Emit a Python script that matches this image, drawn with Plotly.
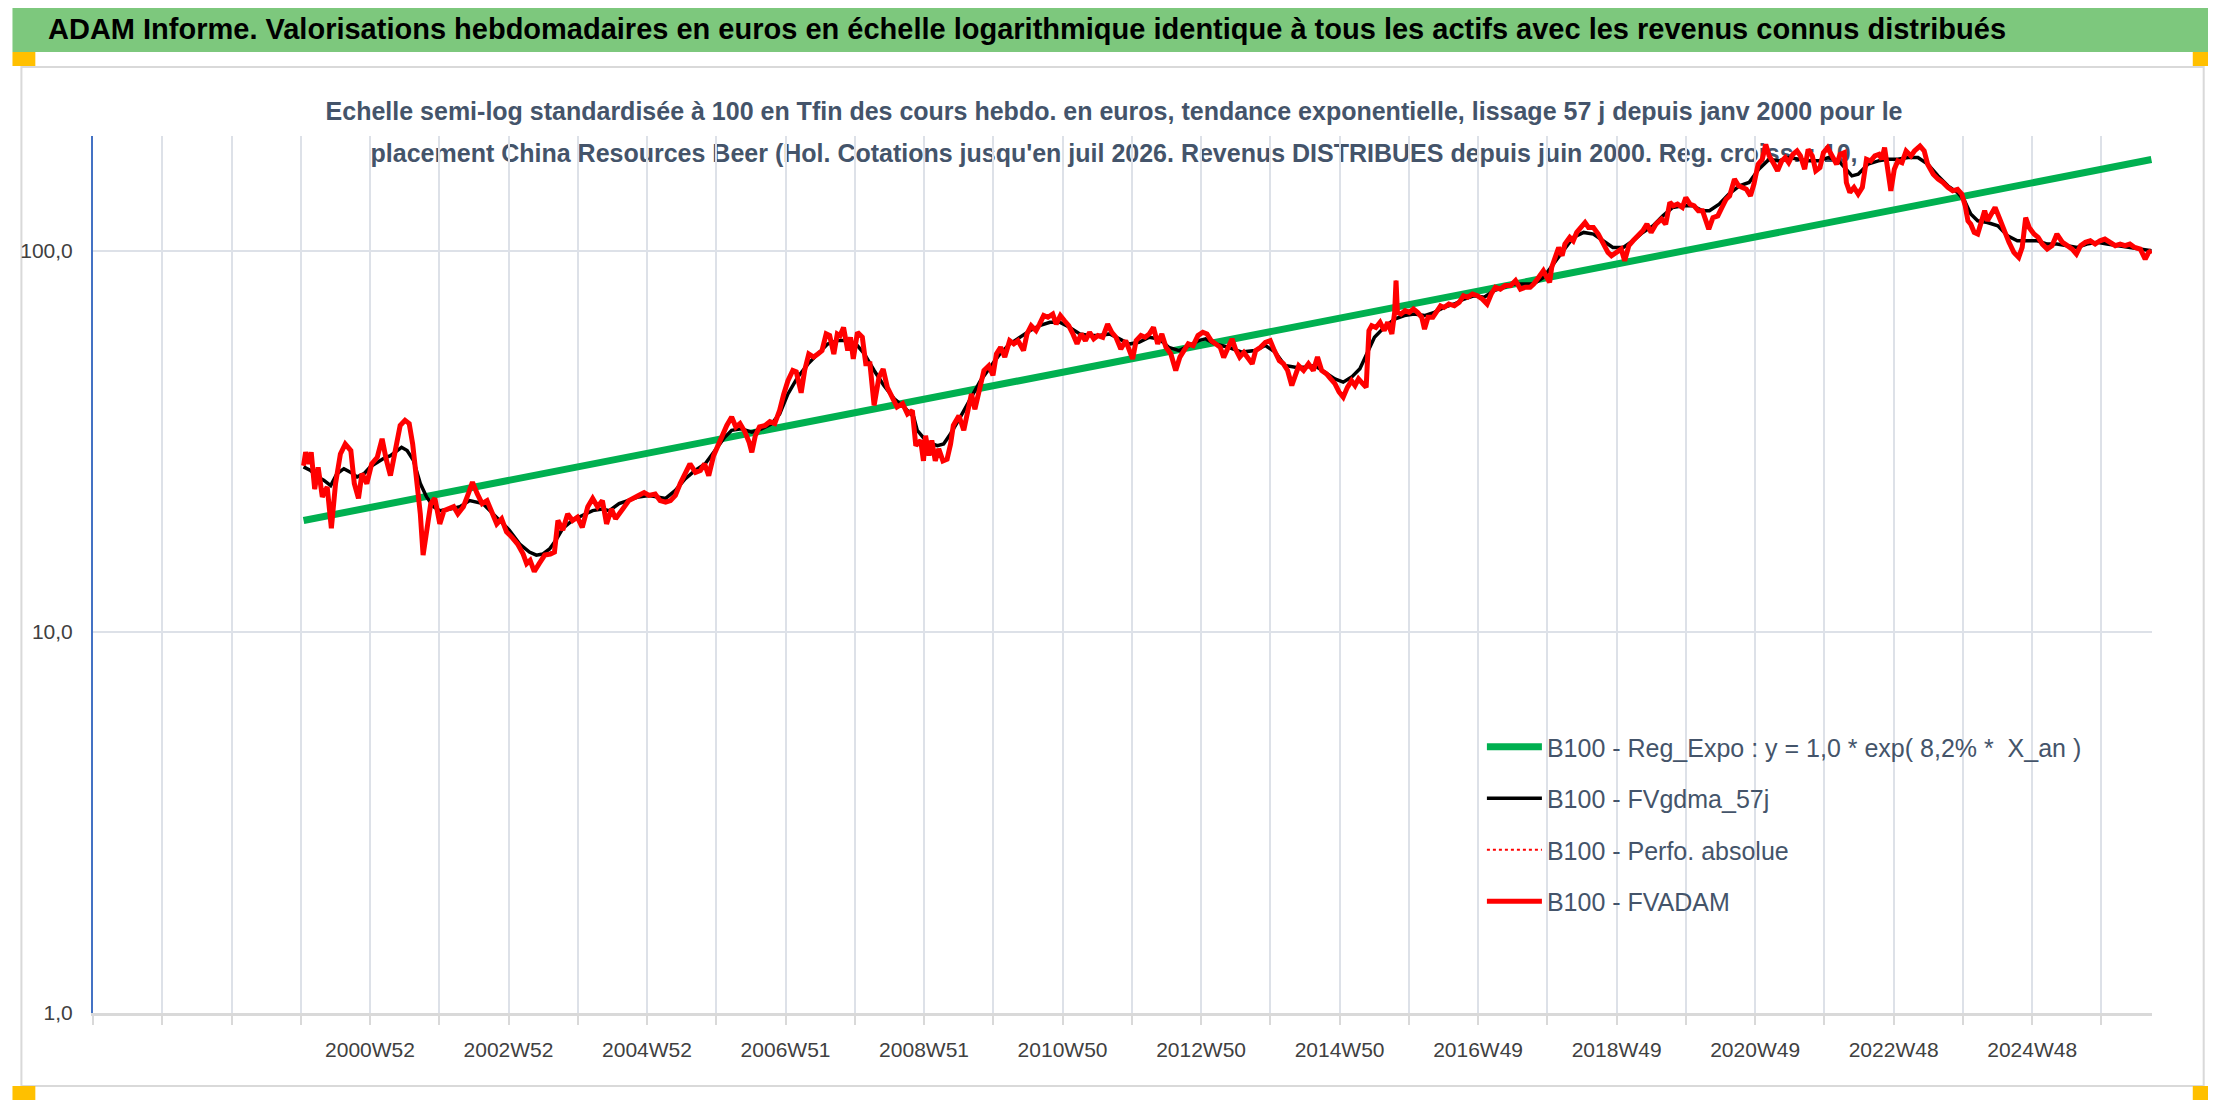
import plotly.graph_objects as go

# FVADAM (base 100 en fin de periode): annee decimale / valeur
red_years = [
    2000.01, 2000.04, 2000.09, 2000.12, 2000.17, 2000.22, 2000.28, 2000.35, 2000.41, 2000.47,
    2000.54, 2000.61, 2000.69, 2000.74, 2000.80, 2000.85, 2000.92, 2000.99, 2001.07, 2001.14,
    2001.20, 2001.26, 2001.33, 2001.40, 2001.47, 2001.53, 2001.58, 2001.64, 2001.69, 2001.73,
    2001.78, 2001.84, 2001.90, 2001.97, 2002.03, 2002.10, 2002.17, 2002.23, 2002.31, 2002.38,
    2002.44, 2002.51, 2002.58, 2002.65, 2002.72, 2002.79, 2002.86, 2002.93, 2003.01, 2003.09,
    2003.17, 2003.22, 2003.27, 2003.33, 2003.40, 2003.48, 2003.56, 2003.62, 2003.67, 2003.74,
    2003.81, 2003.88, 2003.95, 2004.02, 2004.10, 2004.17, 2004.24, 2004.31, 2004.37, 2004.44,
    2004.50, 2004.62, 2004.69, 2004.83, 2004.91, 2004.98, 2005.07, 2005.14, 2005.22, 2005.29,
    2005.36, 2005.43, 2005.50, 2005.57, 2005.65, 2005.72, 2005.78, 2005.84, 2005.91, 2005.97,
    2006.04, 2006.10, 2006.17, 2006.23, 2006.29, 2006.36, 2006.42, 2006.46, 2006.51, 2006.57,
    2006.65, 2006.72, 2006.79, 2006.86, 2006.92, 2006.98, 2007.05, 2007.10, 2007.17, 2007.22,
    2007.28, 2007.35, 2007.41, 2007.47, 2007.53, 2007.58, 2007.64, 2007.69, 2007.73, 2007.78,
    2007.84, 2007.88, 2007.92, 2007.98, 2008.05, 2008.10, 2008.16, 2008.22, 2008.29, 2008.35,
    2008.41, 2008.48, 2008.55, 2008.63, 2008.70, 2008.77, 2008.82, 2008.89, 2008.93, 2008.96,
    2009.01, 2009.05, 2009.10, 2009.15, 2009.21, 2009.27, 2009.32, 2009.36, 2009.44, 2009.51,
    2009.56, 2009.62, 2009.67, 2009.74, 2009.80, 2009.87, 2009.93, 2009.98, 2010.04, 2010.10,
    2010.17, 2010.23, 2010.29, 2010.37, 2010.42, 2010.48, 2010.55, 2010.60, 2010.66, 2010.72,
    2010.79, 2010.84, 2010.90, 2010.96, 2011.02, 2011.08, 2011.14, 2011.20, 2011.26, 2011.32,
    2011.38, 2011.44, 2011.51, 2011.58, 2011.64, 2011.70, 2011.77, 2011.84, 2011.90, 2011.94,
    2011.99, 2012.06, 2012.12, 2012.18, 2012.24, 2012.30, 2012.36, 2012.42, 2012.49, 2012.56,
    2012.62, 2012.68, 2012.74, 2012.81, 2012.88, 2012.95, 2013.01, 2013.07, 2013.13, 2013.20,
    2013.25, 2013.32, 2013.37, 2013.42, 2013.48, 2013.54, 2013.60, 2013.66, 2013.71, 2013.78,
    2013.85, 2013.92, 2013.98, 2014.05, 2014.11, 2014.17, 2014.23, 2014.28, 2014.33, 2014.40,
    2014.47, 2014.54, 2014.60, 2014.66, 2014.73, 2014.79, 2014.85, 2014.91, 2014.97, 2015.03,
    2015.09, 2015.14, 2015.19, 2015.25, 2015.30, 2015.34, 2015.38, 2015.44, 2015.50, 2015.56,
    2015.61, 2015.67, 2015.71, 2015.73, 2015.75, 2015.80, 2015.86, 2015.92, 2015.98, 2016.04,
    2016.10, 2016.14, 2016.19, 2016.26, 2016.30, 2016.37, 2016.42, 2016.49, 2016.57, 2016.64,
    2016.70, 2016.76, 2016.83, 2016.90, 2016.97, 2017.04, 2017.10, 2017.16, 2017.23, 2017.30,
    2017.38, 2017.45, 2017.52, 2017.59, 2017.66, 2017.71, 2017.78, 2017.85, 2017.90, 2017.94,
    2017.97, 2018.02, 2018.07, 2018.12, 2018.16, 2018.23, 2018.28, 2018.33, 2018.39, 2018.45,
    2018.50, 2018.57, 2018.64, 2018.71, 2018.78, 2018.83, 2018.90, 2018.97, 2019.02, 2019.08,
    2019.14, 2019.21, 2019.28, 2019.34, 2019.40, 2019.47, 2019.55, 2019.61, 2019.67, 2019.72,
    2019.78, 2019.85, 2019.90, 2019.96, 2020.02, 2020.08, 2020.14, 2020.19, 2020.23, 2020.29,
    2020.36, 2020.42, 2020.48, 2020.53, 2020.60, 2020.66, 2020.71, 2020.77, 2020.83, 2020.88,
    2020.94, 2021.00, 2021.05, 2021.10, 2021.17, 2021.22, 2021.28, 2021.33, 2021.38, 2021.44,
    2021.50, 2021.55, 2021.61, 2021.66, 2021.72, 2021.77, 2021.83, 2021.88, 2021.94, 2022.00,
    2022.07, 2022.12, 2022.18, 2022.21, 2022.26, 2022.32, 2022.38, 2022.44, 2022.50, 2022.56,
    2022.62, 2022.68, 2022.72, 2022.76, 2022.80, 2022.85, 2022.90, 2022.95, 2023.01, 2023.07,
    2023.14, 2023.19, 2023.27, 2023.33, 2023.38, 2023.46, 2023.53, 2023.60, 2023.67, 2023.74,
    2023.81, 2023.87, 2023.92, 2023.96, 2024.00, 2024.05, 2024.10, 2024.15, 2024.20, 2024.24,
    2024.29, 2024.35, 2024.41, 2024.48, 2024.55, 2024.62, 2024.69, 2024.74, 2024.79, 2024.84,
    2024.91, 2024.97, 2025.03, 2025.10, 2025.17, 2025.24, 2025.32, 2025.39, 2025.46, 2025.52,
    2025.58, 2025.65, 2025.72, 2025.79, 2025.86, 2025.93, 2026.01, 2026.08, 2026.15, 2026.22,
    2026.29, 2026.36, 2026.44, 2026.51, 2026.56, 2026.60,
]
red_vals = [
    27.3, 29.6, 27.6, 29.6, 23.7, 27.0, 22.6, 24.0, 18.7, 24.5,
    29.3, 31.1, 29.9, 24.5, 22.4, 26.0, 24.5, 27.6, 28.7, 32.1,
    28.3, 25.7, 29.9, 34.8, 35.9, 35.2, 31.1, 25.5, 20.4, 15.9,
    18.5, 21.7, 22.4, 19.2, 20.8, 21.0, 21.3, 20.4, 21.3, 23.0,
    24.7, 23.0, 21.7, 22.1, 20.4, 19.2, 19.8, 18.3, 17.7, 17.0,
    16.0, 15.1, 15.4, 14.4, 15.1, 15.9, 16.0, 16.2, 19.6, 18.5,
    20.4, 19.6, 20.0, 18.8, 21.3, 22.4, 21.3, 22.1, 19.2, 21.0,
    19.8, 21.3, 22.1, 22.8, 23.2, 22.8, 23.0, 22.1, 21.9, 22.1,
    22.8, 24.5, 26.0, 27.6, 26.2, 26.5, 27.6, 25.7, 29.0, 30.8,
    32.7, 34.8, 36.6, 34.5, 35.2, 33.5, 31.5, 29.6, 32.7, 34.5,
    34.8, 35.6, 35.2, 38.1, 42.1, 45.6, 48.5, 48.1, 42.4, 48.5,
    53.6, 52.6, 53.6, 54.7, 60.5, 59.9, 53.6, 60.5, 59.9, 62.9,
    54.7, 59.3, 52.0, 61.1, 59.3, 50.5, 50.5, 39.3, 46.6, 48.9,
    43.8, 41.3, 38.9, 39.7, 37.3, 38.1, 30.8, 31.8, 28.1, 32.7,
    29.0, 31.8, 28.1, 30.2, 28.1, 28.4, 31.1, 34.8, 36.9, 33.8,
    37.6, 42.1, 38.4, 43.8, 48.5, 49.9, 47.1, 53.6, 55.8, 52.6,
    58.1, 57.0, 58.1, 54.7, 60.5, 63.6, 61.7, 64.2, 67.6, 66.9,
    68.2, 64.2, 67.6, 65.5, 63.6, 60.5, 57.0, 60.5, 58.1, 61.1,
    58.7, 59.9, 59.3, 64.2, 61.1, 59.3, 55.2, 58.1, 54.7, 52.0,
    58.1, 59.9, 59.3, 60.5, 62.9, 57.0, 60.5, 55.8, 53.6, 48.5,
    52.6, 54.7, 57.0, 56.4, 59.9, 61.1, 60.5, 58.1, 57.0, 55.8,
    52.5, 55.8, 58.7, 55.2, 52.6, 54.1, 52.0, 50.5, 54.7, 55.8,
    57.5, 58.1, 54.7, 51.5, 50.5, 48.5, 44.3, 47.5, 49.9, 48.5,
    50.5, 48.5, 52.6, 48.5, 47.5, 46.1, 44.8, 42.6, 41.3, 43.8,
    45.6, 44.3, 46.1, 44.8, 43.8, 61.7, 63.6, 62.9, 64.9, 61.7,
    64.9, 60.5, 68.9, 83.5, 68.9, 68.2, 69.6, 68.9, 70.3, 68.9,
    66.9, 62.3, 66.9, 66.9, 68.9, 71.7, 71.0, 72.5, 71.7, 73.2,
    76.2, 75.5, 77.0, 76.2, 74.7, 72.5, 77.0, 80.2, 79.3, 81.0,
    81.0, 83.5, 79.3, 80.2, 80.2, 81.8, 85.1, 88.6, 85.1, 82.6,
    90.4, 97.0, 102.0, 97.0, 104.1, 108.4, 106.2, 111.7, 115.1, 118.6,
    115.1, 115.1, 110.6, 104.1, 99.0, 97.0, 99.0, 101.0, 94.1, 103.1,
    106.2, 109.5, 112.8, 117.4, 111.7, 117.4, 121.0, 117.4, 133.9, 131.2,
    132.5, 129.9, 137.9, 132.5, 131.2, 127.3, 127.3, 119.8, 113.9, 122.1,
    123.4, 129.9, 136.5, 139.3, 154.1, 148.1, 146.6, 145.1, 139.3, 149.6,
    168.6, 173.8, 190.1, 177.3, 168.6, 162.1, 172.0, 175.5, 170.3, 179.0,
    182.7, 177.3, 163.7, 184.5, 177.3, 162.1, 165.3, 180.9, 186.4, 179.0,
    168.6, 179.0, 180.9, 151.0, 142.2, 146.6, 140.8, 146.6, 173.8, 172.0,
    177.3, 179.0, 173.8, 186.4, 168.6, 143.6, 163.7, 172.0, 170.3, 182.7,
    177.3, 182.7, 188.2, 182.7, 168.6, 158.7, 154.1, 151.0, 146.6, 143.6,
    144.9, 140.8, 131.2, 119.8, 117.4, 111.7, 110.6, 118.6, 127.3, 119.8,
    124.7, 129.9, 122.1, 112.8, 105.2, 99.0, 96.1, 102.0, 122.1, 115.1,
    110.6, 108.4, 104.1, 101.0, 103.1, 110.6, 105.2, 103.1, 101.0, 98.0,
    103.1, 105.2, 106.2, 104.1, 106.2, 107.3, 105.2, 103.1, 104.1, 103.1,
    104.1, 102.0, 101.0, 95.1, 99.0, 100.0,
]

# FVgdma_57j (moyenne lissee)
black_years = [
    2000.01, 2000.11, 2000.21, 2000.30, 2000.40, 2000.49, 2000.59, 2000.69, 2000.78, 2000.88,
    2000.97, 2001.07, 2001.16, 2001.26, 2001.35, 2001.42, 2001.50, 2001.59, 2001.69, 2001.78,
    2001.88, 2001.97, 2002.12, 2002.26, 2002.40, 2002.50, 2002.59, 2002.69, 2002.83, 2002.97,
    2003.12, 2003.26, 2003.36, 2003.45, 2003.55, 2003.64, 2003.74, 2003.88, 2004.02, 2004.17,
    2004.31, 2004.41, 2004.55, 2004.69, 2004.83, 2004.98, 2005.12, 2005.22, 2005.36, 2005.50,
    2005.64, 2005.79, 2005.93, 2006.07, 2006.17, 2006.31, 2006.46, 2006.60, 2006.74, 2006.86,
    2006.98, 2007.12, 2007.27, 2007.41, 2007.55, 2007.70, 2007.84, 2007.98, 2008.08, 2008.22,
    2008.36, 2008.51, 2008.65, 2008.79, 2008.84, 2008.98, 2009.13, 2009.22, 2009.32, 2009.46,
    2009.60, 2009.75, 2009.89, 2010.03, 2010.17, 2010.32, 2010.46, 2010.60, 2010.75, 2010.89,
    2011.03, 2011.18, 2011.32, 2011.46, 2011.61, 2011.75, 2011.89, 2012.03, 2012.18, 2012.32,
    2012.46, 2012.61, 2012.75, 2012.89, 2012.99, 2013.13, 2013.32, 2013.51, 2013.70, 2013.85,
    2013.99, 2014.13, 2014.28, 2014.42, 2014.56, 2014.71, 2014.85, 2014.97, 2015.09, 2015.21,
    2015.33, 2015.42, 2015.56, 2015.71, 2015.85, 2015.99, 2016.14, 2016.28, 2016.42, 2016.57,
    2016.71, 2016.85, 2017.00, 2017.14, 2017.28, 2017.42, 2017.57, 2017.71, 2017.85, 2017.99,
    2018.14, 2018.28, 2018.43, 2018.57, 2018.71, 2018.85, 2019.00, 2019.14, 2019.28, 2019.43,
    2019.57, 2019.71, 2019.86, 2020.00, 2020.14, 2020.24, 2020.38, 2020.52, 2020.67, 2020.81,
    2020.95, 2021.10, 2021.24, 2021.38, 2021.53, 2021.67, 2021.81, 2021.95, 2022.10, 2022.29,
    2022.38, 2022.52, 2022.67, 2022.81, 2022.95, 2023.10, 2023.24, 2023.38, 2023.53, 2023.67,
    2023.81, 2023.91, 2024.00, 2024.10, 2024.24, 2024.39, 2024.53, 2024.67, 2024.82, 2024.96,
    2025.10, 2025.24, 2025.39, 2025.53, 2025.67, 2025.82, 2025.96, 2026.10, 2026.24, 2026.39,
    2026.53, 2026.60,
]
black_vals = [
    27.1, 26.5, 25.5, 25.0, 24.2, 26.0, 26.8, 26.2, 25.5, 26.0,
    27.1, 27.9, 28.5, 29.0, 29.9, 30.5, 29.9, 28.2, 24.5, 22.6,
    21.3, 20.8, 21.0, 21.3, 22.1, 21.9, 21.7, 20.8, 19.6, 18.5,
    17.0, 16.2, 15.9, 16.0, 16.5, 17.4, 18.7, 19.6, 20.2, 20.8,
    21.0, 20.8, 21.7, 22.1, 22.6, 22.8, 22.6, 22.4, 23.5, 25.2,
    26.5, 27.6, 29.9, 32.4, 33.8, 34.1, 33.4, 34.1, 35.1, 37.3,
    42.1, 46.6, 50.5, 53.6, 56.9, 58.1, 58.1, 56.4, 53.6, 48.5,
    44.3, 40.9, 38.9, 36.6, 33.8, 31.5, 30.8, 31.1, 33.1, 36.6,
    40.5, 45.6, 49.5, 53.6, 56.9, 59.3, 61.7, 63.6, 64.9, 64.9,
    63.0, 60.5, 59.9, 59.9, 60.5, 58.7, 56.9, 57.5, 59.3, 58.7,
    55.8, 54.7, 56.4, 58.1, 58.7, 56.9, 55.8, 54.2, 54.7, 56.4,
    54.2, 50.0, 49.5, 49.5, 50.0, 48.0, 46.1, 45.2, 46.6, 49.0,
    54.7, 59.3, 63.0, 66.2, 67.6, 68.2, 67.6, 68.9, 71.0, 72.5,
    74.7, 76.2, 75.5, 78.6, 80.2, 81.8, 81.8, 81.8, 85.1, 92.3,
    100.0, 108.4, 111.7, 110.6, 106.2, 102.0, 102.0, 106.2, 111.7, 116.3,
    123.5, 129.9, 131.2, 131.2, 127.3, 127.3, 132.5, 140.8, 148.0, 151.0,
    163.7, 173.8, 172.1, 175.6, 173.8, 172.1, 172.1, 175.6, 172.1, 157.2,
    158.8, 168.7, 172.1, 173.8, 173.8, 175.6, 175.6, 168.7, 157.2, 148.0,
    142.2, 135.2, 124.8, 119.8, 118.6, 116.3, 109.5, 106.2, 106.2, 106.2,
    104.1, 104.1, 103.1, 102.0, 104.1, 105.2, 104.1, 103.1, 102.0, 101.0,
    100.0, 100.0,
]

# Regression exponentielle : extremites de la droite
trend_years = [2000.01, 2026.60]
trend_vals = [19.6, 173.5]

week_labels = ["2000W52", "2002W52", "2004W52", "2006W51", "2008W51", "2010W50", "2012W50",
               "2014W50", "2016W49", "2018W49", "2020W49", "2022W48", "2024W48"]

# la page a une marge de 8 px : la figure est donc reduite d'autant
OFF = 8
W, H = 2208, 1094
L, R, T, B = 73, 64, 128, 89
PW, PH = W - L - R, H - T - B
FONT = "Liberation Sans, Arial, sans-serif"
SLATE = "#44546A"


def px(x):
    # position ecran (px) -> coordonnee paper
    return (x - OFF - L) / PW


def py(y):
    return (H - B - (y - OFF)) / PH


# axe par categories hebdo : un trait tous les 52 points, une etiquette tous les 104
X0 = 1996.98
YEAR52 = 52 / 52.18
grid_vals = [X0 + k * YEAR52 for k in range(30)]
grid_text = [""] * 30
for i, lab in enumerate(week_labels):
    grid_text[4 + 2 * i] = lab

fig = go.Figure()
fig.add_trace(go.Scatter(x=trend_years, y=trend_vals, mode="lines", legendgroup="a",
                         name="B100 - Reg_Expo : y = 1,0 * exp( 8,2% *  X_an )",
                         line=dict(color="#00B050", width=7)))
fig.add_trace(go.Scatter(x=black_years, y=black_vals, mode="lines", legendgroup="b",
                         name="B100 - FVgdma_57j", line=dict(color="black", width=3.5)))
fig.add_trace(go.Scatter(x=red_years, y=red_vals, mode="lines", legendgroup="c",
                         name="B100 - Perfo. absolue",
                         line=dict(color="#FF0000", width=2, dash="dot")))
fig.add_trace(go.Scatter(x=red_years, y=red_vals, mode="lines", legendgroup="d",
                         name="B100 - FVADAM", line=dict(color="#FF0000", width=5)))

shapes = [
    dict(type="rect", xref="paper", yref="paper", x0=px(0), x1=px(2216), y0=py(52), y1=py(0),
         fillcolor="#7DC87D", line=dict(width=0), layer="below"),
    dict(type="rect", xref="paper", yref="paper", x0=px(9), x1=px(2204), y0=py(1086), y1=py(67),
         line=dict(color="#D9D9D9", width=2), layer="below"),
]
for x0, y0 in [(0, 52), (2193, 52), (0, 1086), (2193, 1086)]:
    shapes.append(dict(type="rect", xref="paper", yref="paper", x0=px(x0), x1=px(x0 + 23),
                       y0=py(y0 + 14), y1=py(y0), fillcolor="#FFC000", line=dict(width=0)))

sub1 = ("Echelle semi-log standardisée à 100 en Tfin des cours hebdo. en euros, tendance "
        "exponentielle, lissage 57 j depuis janv 2000 pour le")
sub2 = ("placement China Resources Beer (Hol. Cotations jusqu'en juil 2026. Revenus DISTRIBUES "
        "depuis juin 2000. Reg. croiss. : 10,")
for txt, yc in [(sub1, 109), (sub2, 151)]:
    shapes.append(dict(type="rect", xref="paper", yref="paper", x0=px(0), x1=px(2216),
                       y0=py(yc + 12), y1=py(yc - 12), line=dict(width=0),
                       fillcolor="rgba(0,0,0,0)", layer="between",
                       label=dict(text=txt, textposition="middle center",
                                  font=dict(family=FONT, size=25, color=SLATE, weight="bold"))))

fig.update_layout(
    width=W, height=H,
    margin=dict(l=L, r=R, t=T, b=B),
    paper_bgcolor="white", plot_bgcolor="white",
    font=dict(family=FONT, color=SLATE),
    shapes=shapes,
    annotations=[dict(xref="paper", yref="paper", x=px(34), y=py(29), xanchor="left",
                      yanchor="middle", showarrow=False,
                      text="<b>ADAM Informe. Valorisations hebdomadaires en euros en échelle "
                           "logarithmique identique à tous les actifs avec les revenus connus "
                           "distribués</b>",
                      font=dict(family=FONT, size=29, color="black"))],
    showlegend=True,
    legend=dict(x=px(1478), y=py(724), xanchor="left", yanchor="top", itemwidth=55,
                bgcolor="rgba(0,0,0,0)", tracegroupgap=16, traceorder="grouped",
                font=dict(family=FONT, size=25, color=SLATE)),
    xaxis=dict(range=[X0, X0 + PW / 69.9], tickmode="array", tickvals=grid_vals,
               ticktext=grid_text, showgrid=True, gridcolor="#DDE1E8", gridwidth=2,
               zeroline=False, showline=True, linecolor="#D9D9D9", linewidth=3,
               ticks="outside", ticklen=9, tickcolor="#D9D9D9", tickwidth=2,
               ticklabelstandoff=7,
               tickfont=dict(family=FONT, size=21, color="#404040")),
    yaxis=dict(type="log", range=[0, 2.30103], tickmode="array", tickvals=[1, 10, 100],
               ticktext=["1,0", "10,0", "100,0"], showgrid=True, gridcolor="#DDE1E8",
               gridwidth=2, zeroline=False, showline=True, linecolor="#4472C4", linewidth=2,
               ticklabelstandoff=14, tickfont=dict(family=FONT, size=21, color="#404040")),
)

fig.write_html("out.html")
